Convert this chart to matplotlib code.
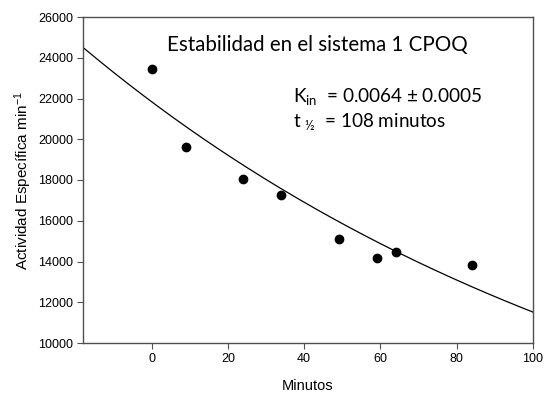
import numpy as np
import matplotlib
matplotlib.use("Agg")
import matplotlib.pyplot as plt

minutes = [0, 9, 24, 34, 49, 59, 64, 84]
activity = [23450, 19630, 18050, 17260, 15100, 14170, 14480, 13830]

# fitted exponential decay model parameters
fit_a0 = 21840
fit_k = 0.0064

xticks = [0, 20, 40, 60, 80, 100]
yticks = [10000, 12000, 14000, 16000, 18000, 20000, 22000, 24000, 26000]

plt.rcParams['font.family'] = ['Liberation Sans', 'DejaVu Sans']
plt.rcParams['mathtext.fontset'] = 'custom'
plt.rcParams['mathtext.rm'] = 'Lato'
plt.rcParams['mathtext.it'] = 'Lato:italic'

fig = plt.figure(figsize=(5.45, 3.96), dpi=100)
ax = fig.add_axes([83/545, 1-343/396, 450/545, 326/396])

xf = np.linspace(-18, 100, 300)
ax.plot(xf, fit_a0*np.exp(-fit_k*xf), color='black', lw=0.9)
ax.plot(minutes, activity, 'o', color='black', ms=6)

ax.set_xlim(-18, 100)
ax.set_ylim(10000, 26000)
ax.set_xticks(xticks)
ax.set_yticks(yticks)
for s in ax.spines.values():
    s.set_color('#505050')
    s.set_linewidth(1.0)
ax.tick_params(direction='out', length=4, width=0.8, color='#505050', labelsize=9, pad=3)

ax.set_xlabel('Minutos', fontsize=10.5, labelpad=10)
ax.set_ylabel('Actividad Específica min$^{\\mathregular{-1}}$', fontsize=11, labelpad=3)

ax.text(0.521, 0.914, 'Estabilidad en el sistema 1 CPOQ', transform=ax.transAxes,
        ha='center', va='center', fontsize=14.8, family='Lato')
ax.text(0.467, 0.739, 'K$_{\\mathrm{in}}$  = 0.0064 ± 0.0005', transform=ax.transAxes,
        ha='left', va='baseline', fontsize=13.6, family='Lato')
ax.text(0.467, 0.663, 't $_{\\mathrm{½}}$  = 108 minutos', transform=ax.transAxes,
        ha='left', va='baseline', fontsize=13.6, family='Lato')

fig.savefig('out.png', dpi=100)
